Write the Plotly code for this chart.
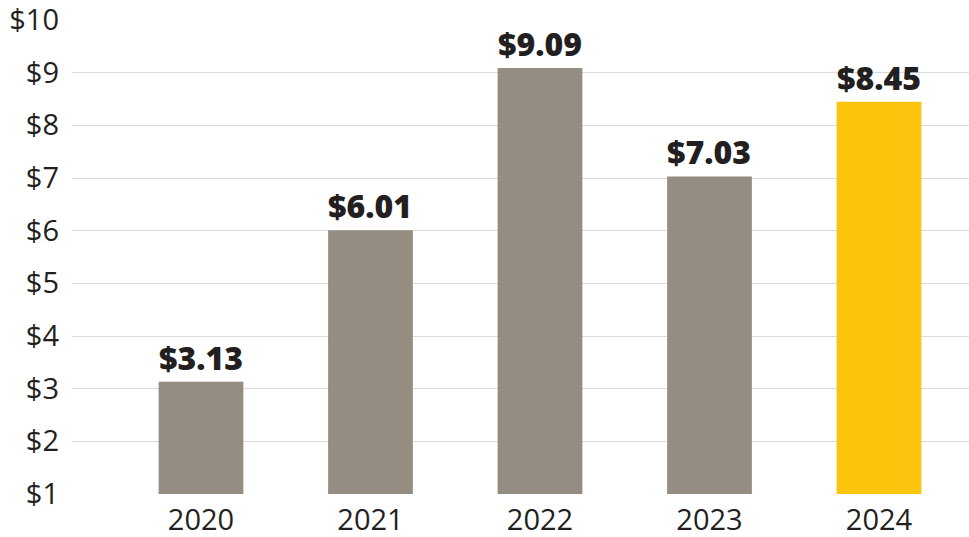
import plotly.graph_objects as go

years = ["2020", "2021", "2022", "2023", "2024"]
values = [3.13, 6.01, 9.09, 7.03, 8.45]
labels = ["$3.13", "$6.01", "$9.09", "$7.03", "$8.45"]
colors = ["#958c82", "#958c82", "#958c82", "#958c82", "#fcc40d"]
ytick_vals = [1, 2, 3, 4, 5, 6, 7, 8, 9, 10]
ytick_text = ["$1", "$2", "$3", "$4", "$5", "$6", "$7", "$8", "$9", "$10"]

fig = go.Figure(go.Bar(
    x=list(range(len(years))), y=values,
    marker=dict(color=colors, line=dict(width=0)),
    width=0.5, hoverinfo="skip",
))
for i, (v, t) in enumerate(zip(values, labels)):
    fig.add_annotation(
        x=i, y=v, text=t, showarrow=False, yanchor="bottom", yshift=1,
        font=dict(family="Open Sans", size=32, color="#231f20", weight=800),
    )
fig.update_layout(
    width=969, height=537,
    margin=dict(l=72, r=0, t=20, b=43, autoexpand=False),
    paper_bgcolor="white", plot_bgcolor="white",
    showlegend=False,
    font=dict(family="Open Sans", color="#231f20"),
)
fig.update_xaxes(
    range=[-0.761, 4.531],
    tickvals=list(range(len(years))), ticktext=years,
    tickfont=dict(size=29, color="#231f20"),
    showgrid=False, zeroline=False, showline=False, ticks="",
    ticklabelstandoff=6, ticklabeloverflow="allow", automargin=False,
)
fig.update_yaxes(
    range=[1, 10],
    tickvals=ytick_vals, ticktext=ytick_text,
    tickfont=dict(size=29, color="#231f20"),
    showgrid=True, gridcolor="#dadada", gridwidth=1.2,
    zeroline=False, showline=False, ticks="", ticklabelstandoff=12,
    ticklabeloverflow="allow", automargin=False,
)
fig.write_html(
    "out.html",
    config={"displayModeBar": False},
    post_script="document.body.style.margin='0';document.body.style.overflow='hidden';",
)
